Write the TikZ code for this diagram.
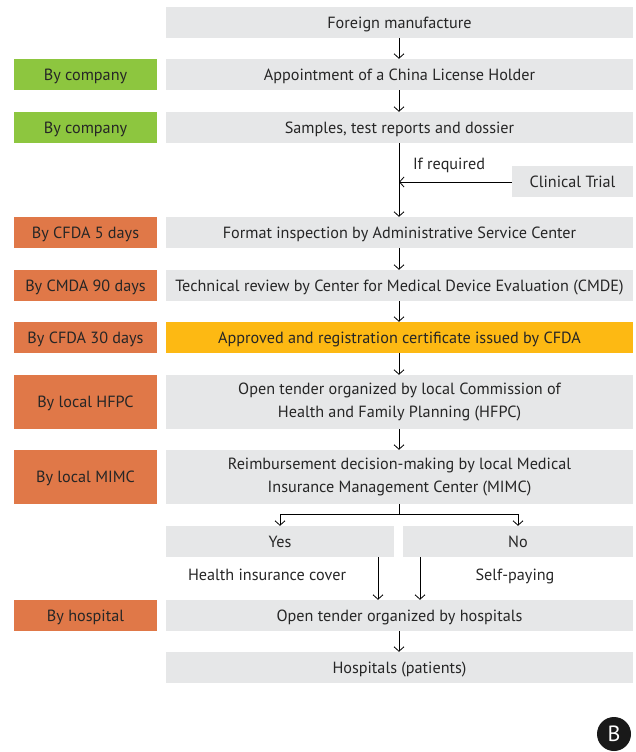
\documentclass[tikz,border=0pt]{standalone}
\usepackage{fontspec}
\setmainfont{PT Sans}
\usetikzlibrary{arrows.meta}
\definecolor{boxgray}{HTML}{E6E7E8}
\definecolor{boxgreen}{HTML}{8DC63F}
\definecolor{boxorange}{HTML}{E07848}
\definecolor{boxyellow}{HTML}{FDB913}
\definecolor{txt}{HTML}{262626}
\begin{document}
\begin{tikzpicture}[x=1pt,y=-1pt,
  every node/.style={text=txt, font=\fontsize{16.2}{23.5}\selectfont, inner sep=0pt},
  one/.style={text depth=0pt},
  mainbox/.style={fill=boxgray, minimum width=467pt, minimum height=31pt, align=center},
  twoline/.style={fill=boxgray, minimum width=467pt, minimum height=54pt, align=center},
  sidebox/.style={minimum width=143pt, minimum height=31pt, align=center, one},
  greenbox/.style={sidebox, fill=boxgreen},
  orangebox/.style={sidebox, fill=boxorange},
  arr/.style={draw=black, line width=0.8pt, -{Straight Barb[length=4.5pt,width=10pt]}},
  ln/.style={draw=black, line width=0.8pt}]
\useasboundingbox (0,0) rectangle (636,752);
% main column
\node[mainbox, one] (r1) at (399.5,22.5) {Foreign manufacture};
\node[mainbox, one] (r2) at (399.5,74.5) {Appointment of a China License Holder};
\node[mainbox, one] (r3) at (399.5,127.5) {Samples, test reports and dossier};
\node[fill=boxgray, minimum width=121pt, minimum height=31pt, one] (ct) at (572.5,181.5) {Clinical Trial};
\node[mainbox, one] (r4) at (399.5,232.5) {Format inspection by Administrative Service Center};
\node[mainbox, one] (r5) at (399.5,285.5) {Technical review by Center for Medical Device Evaluation (CMDE)};
\node[mainbox, one, fill=boxyellow] (r6) at (399.5,337.5) {Approved and registration certificate issued by CFDA};
\node[twoline] (r7) at (399.5,402) {Open tender organized by local Commission of\\Health and Family Planning (HFPC)};
\node[twoline] (r8) at (399.5,477) {Reimbursement decision-making by local Medical\\Insurance Management Center (MIMC)};
\node[fill=boxgray, minimum width=228pt, minimum height=31pt, one] (yes) at (280,541.5) {Yes};
\node[fill=boxgray, minimum width=230pt, minimum height=31pt, one] (no) at (518,541.5) {No};
\node[mainbox, one] (r9) at (399.5,615.5) {Open tender organized by hospitals};
\node[mainbox, one] (r10) at (399.5,667.5) {Hospitals (patients)};
% side column
\node[greenbox] (s2) at (85.5,74.5) {By company};
\node[greenbox] (s3) at (85.5,127.5) {By company};
\node[orangebox] (s4) at (85.5,232.5) {By CFDA 5 days};
\node[orangebox] (s5) at (85.5,285.5) {By CMDA 90 days};
\node[orangebox] (s6) at (85.5,337.5) {By CFDA 30 days};
\node[orangebox, minimum height=54pt] (s7) at (85.5,402) {By local HFPC};
\node[orangebox, minimum height=54pt] (s8) at (85.5,477) {By local MIMC};
\node[orangebox] (s9) at (85.5,615.5) {By hospital};
% labels
\node[one] (ifreq) at (449,164) {If required};
\node[one] (hic) at (267,575) {Health insurance cover};
\node[one] (sp) at (515,575) {Self-paying};
% arrows
\draw[arr] (r1.south -| 399,0) -- (r2.north -| 399,0);
\draw[arr] (r2.south -| 399,0) -- (r3.north -| 399,0);
\draw[arr] (r3.south -| 399,0) -- (r4.north -| 399,0);
\coordinate (join) at (399,182);
\draw[arr] (ct.west |- join) -- (join);
\draw[arr] (r4.south -| 399,0) -- (r5.north -| 399,0);
\draw[arr] (r5.south -| 399,0) -- (r6.north -| 399,0);
\draw[arr] (r6.south -| 399,0) -- (r7.north -| 399,0);
\draw[arr] (r7.south -| 399,0) -- (r8.north -| 399,0);
\coordinate (split) at (399,514);
\draw[ln] (r8.south -| 399,0) -- (split);
\draw[arr] (split) -| (yes.north);
\draw[arr] (split) -| (no.north);
\draw[arr] (yes.south -| 378,0) -- (r9.north -| 378,0);
\draw[arr] (no.south -| 420,0) -- (r9.north -| 420,0);
\draw[arr] (r9.south -| 399,0) -- (r10.north -| 399,0);
% B badge
\node[circle, fill=black!90, minimum size=34pt, text=white, font=\fontsize{22}{22}\selectfont] (badge) at (614,734) {B};
\end{tikzpicture}
\end{document}
